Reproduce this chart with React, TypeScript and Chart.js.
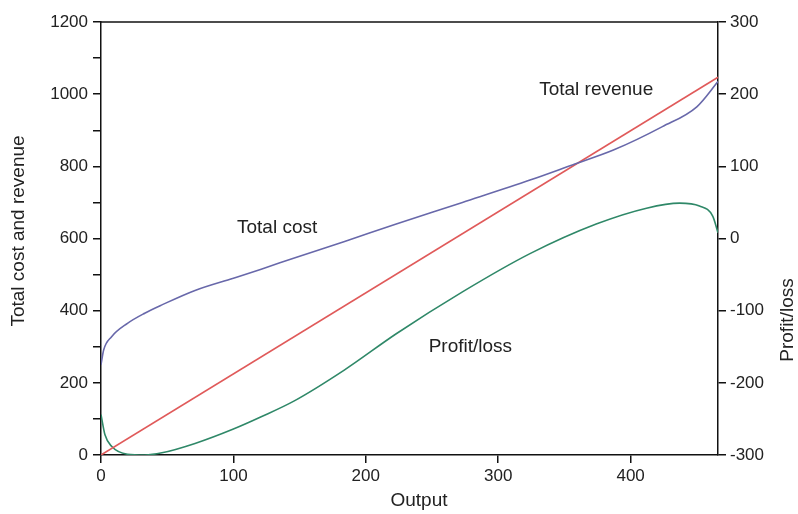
import React, { useEffect, useRef } from "react";
import { Chart, registerables } from "chart.js";

Chart.register(...registerables);

// ---- data ----
const costOutput = [0, 2, 8, 20, 33, 46, 71, 100, 121, 146, 184, 223, 273, 324, 356, 387, 424, 450, 466];
const costValues = [250, 291, 328, 365, 393, 416, 456, 490, 515, 546, 592, 640, 700, 762, 804, 845, 910, 965, 1035];

const revenueOutput = [0, 466];
const revenueValues = [0, 1047];

const profitOutput = [0, 3, 8, 20, 33, 46, 71, 100, 121, 146, 184, 223, 273, 324, 374, 412, 437, 452, 462, 466];
const profitValues = [-244, -272, -288, -299, -300, -297, -284, -264, -247, -225, -182, -132, -74, -21, 20, 42, 49, 45, 31, 8];

const xTicks = [0, 100, 200, 300, 400];
const leftTickLabels = [0, 200, 400, 600, 800, 1000, 1200];
const rightTickLabels = [-300, -200, -100, 0, 100, 200, 300];

const seriesNames = ["Total cost", "Total revenue", "Profit/loss"];

const W = 798;
const H = 514;
const FONT = "'Liberation Sans', Arial, Helvetica, sans-serif";
const TEXT = "#222";

const toPts = (xs: number[], ys: number[]) => xs.map((x, i) => ({ x, y: ys[i] }));

const labelPlugin = {
  id: "labels",
  afterDraw(chart: any) {
    const { ctx, chartArea, scales } = chart;
    ctx.save();
    // top frame
    ctx.strokeStyle = "#111";
    ctx.lineWidth = 1.5;
    ctx.beginPath();
    ctx.moveTo(chartArea.left, chartArea.top);
    ctx.lineTo(chartArea.right, chartArea.top);
    ctx.stroke();

    ctx.fillStyle = TEXT;
    ctx.font = `19px ${FONT}`;
    ctx.textAlign = "center";
    ctx.textBaseline = "middle";

    // axis titles
    ctx.fillText("Output", 419, 501);
    ctx.save();
    ctx.translate(19, 231);
    ctx.rotate(-Math.PI / 2);
    ctx.fillText("Total cost and revenue", 0, 0);
    ctx.restore();
    ctx.save();
    ctx.translate(788, 320);
    ctx.rotate(-Math.PI / 2);
    ctx.fillText("Profit/loss", 0, 0);
    ctx.restore();

    // curve labels, placed in data coordinates
    const notes = [
      { text: seriesNames[0], x: 133, y: 629 },
      { text: seriesNames[1], x: 374, y: 1012 },
      { text: seriesNames[2], x: 279, y: 300 },
    ];
    notes.forEach((n) => {
      ctx.fillText(n.text, scales.x.getPixelForValue(n.x), scales.y.getPixelForValue(n.y));
    });
    ctx.restore();
  },
};

export default function App() {
  const ref = useRef<HTMLCanvasElement>(null);

  useEffect(() => {
    document.body.style.margin = "0";
    const tickFont = { family: FONT, size: 17 };
    const chart = new Chart(ref.current as HTMLCanvasElement, {
      type: "scatter",
      data: {
        datasets: [
          {
            label: seriesNames[0],
            data: toPts(costOutput, costValues),
            yAxisID: "y",
            showLine: true,
            borderColor: "#6868aa",
            borderWidth: 1.6,
            pointRadius: 0,
            cubicInterpolationMode: "monotone",
          },
          {
            label: seriesNames[1],
            data: toPts(revenueOutput, revenueValues),
            yAxisID: "y",
            showLine: true,
            borderColor: "#e05a5a",
            borderWidth: 1.6,
            pointRadius: 0,
          },
          {
            label: seriesNames[2],
            data: toPts(profitOutput, profitValues),
            yAxisID: "y2",
            showLine: true,
            borderColor: "#2f8868",
            borderWidth: 1.6,
            pointRadius: 0,
            cubicInterpolationMode: "monotone",
          },
        ],
      },
      options: {
        animation: false,
        responsive: false,
        layout: { padding: { top: 22, left: 0, right: 0, bottom: 0 } },
        plugins: { legend: { display: false }, tooltip: { enabled: false } },
        scales: {
          x: {
            type: "linear",
            min: 0,
            max: 466,
            afterFit: (s: any) => { s.height = 59; },
            afterBuildTicks: (s: any) => { s.ticks = xTicks.map((v) => ({ value: v })); },
            ticks: { font: tickFont, color: TEXT, padding: 3, maxRotation: 0 },
            grid: { drawOnChartArea: false, drawTicks: true, tickLength: 8, color: "#111", lineWidth: 1.5 },
            border: { display: true, color: "#111", width: 1.5 },
          },
          y: {
            type: "linear",
            position: "left",
            min: 0,
            max: 1200,
            afterFit: (s: any) => { s.width = 101; },
            ticks: {
              stepSize: 100,
              font: tickFont,
              color: TEXT,
              padding: 5,
              callback: (v: any) => (leftTickLabels.includes(Number(v)) ? String(v) : ""),
            },
            grid: { drawOnChartArea: false, drawTicks: true, tickLength: 8, color: "#111", lineWidth: 1.5 },
            border: { display: true, color: "#111", width: 1.5 },
          },
          y2: {
            type: "linear",
            position: "right",
            min: -300,
            max: 300,
            afterFit: (s: any) => { s.width = W - 718; },
            afterBuildTicks: (s: any) => { s.ticks = rightTickLabels.map((v) => ({ value: v })); },
            ticks: { font: tickFont, color: TEXT, padding: 4 },
            grid: { drawOnChartArea: false, drawTicks: true, tickLength: 8, color: "#111", lineWidth: 1.5 },
            border: { display: true, color: "#111", width: 1.5 },
          },
        },
      } as any,
      plugins: [labelPlugin],
    });
    return () => chart.destroy();
  }, []);

  return (
    <div style={{ position: "absolute", left: 0, top: 0, width: W, height: H, background: "#fff" }}>
      <canvas ref={ref} width={W} height={H} />
    </div>
  );
}
